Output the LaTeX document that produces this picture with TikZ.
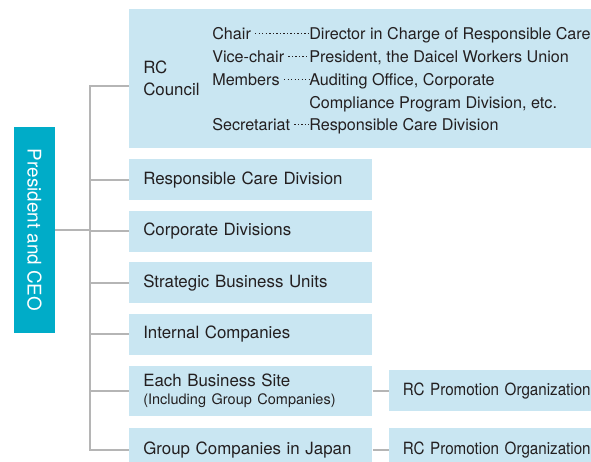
\documentclass[tikz,border=0pt]{standalone}
\usepackage{fontspec}
\setmainfont{TeX Gyre Heros}
\newfontfamily\estrecha[FakeStretch=0.9]{TeX Gyre Heros}
\usetikzlibrary{positioning,calc}
\definecolor{celeste}{RGB}{201,230,242}
\definecolor{turquesa}{RGB}{0,172,200}
\definecolor{gristrazo}{RGB}{181,181,181}
\definecolor{tinta}{RGB}{35,31,32}

\begin{document}
\begin{tikzpicture}[x=0.25mm,y=0.25mm,
caja/.style={fill=celeste,minimum width=60.75mm,minimum height=10.25mm,text width=53.75mm,align=left,inner xsep=3.5mm,inner ysep=0pt,text=tinta,font=\fontsize{12}{14.4}\selectfont},
promo/.style={caja,minimum width=50.75mm,text width=48mm,font=\estrecha\fontsize{12}{14.4}\selectfont},
consejo/.style={fill=celeste,minimum width=115.5mm,minimum height=34.75mm,inner sep=0pt},
ceobox/.style={fill=turquesa,minimum width=10.25mm,minimum height=51.5mm,inner sep=0pt,text=white,font=\fontsize{13.4}{16}\selectfont},
cargobase/.style={anchor=west,inner sep=0pt,text=tinta,font=\fontsize{11.5}{16.2}\selectfont},
cargo/.style={cargobase,text height=8.5pt,text depth=0.5pt},
guia/.style={tinta,line width=0.5pt,dash pattern=on 0.9pt off 1.6pt,shorten <=1mm},
linea/.style={draw=gristrazo,line width=0.5mm}
]
\clip (0,0) rectangle (591,-461);

% RC council and its members
\node[consejo,anchor=north west] (council) at (129,-9) {};
\node[anchor=west,inner sep=0pt,align=left,text=tinta,font=\fontsize{12}{15.6}\selectfont,right=3.5mm of council.west] (rctitulo) {RC\\Council};
\coordinate (colval) at (309,0);
\node[cargo] (chair) at (212,-33.5) {Chair};
\node[cargo] (vice) at (212,-56.5) {Vice-chair};
\node[cargo] (members) at (212,-79.5) {Members};
\node[cargo] (secret) at (212,-124.75) {Secretariat};
\node[cargo] (chairval) at (chair -| colval) {Director in Charge of Responsible Care};
\node[cargo] (viceval) at (vice -| colval) {President, the Daicel Workers Union};
\node[cargobase,align=left,anchor=north west] (membersval) at (members.north -| colval) {Auditing Office, Corporate\\Compliance Program Division, etc.};
\node[cargo] (secretval) at (secret -| colval) {Responsible Care Division};
\draw[guia] (chair.east) -- (chairval.west);
\draw[guia] (vice.east) -- (viceval.west);
\draw[guia] (members.east) -- (members.east -| membersval.west);
\draw[guia] (secret.east) -- (secretval.west);

% other bodies
\node[caja,anchor=north west] (rcdiv) at (129,-159) {Responsible Care Division};
\node[caja,below=2.5mm of rcdiv] (corp) {Corporate Divisions};
\node[caja,below=2.5mm of corp] (sbu) {Strategic Business Units};
\node[caja,below=2.5mm of sbu] (internas) {Internal Companies};
\node[caja,below=2.5mm of internas,minimum height=12.5mm,font=\fontsize{12}{12.8}\selectfont] (sitio) {Each Business Site\\{\fontsize{10.3}{12.8}\selectfont(Including Group Companies)}};
\node[caja,below=3mm of sitio,minimum height=11mm] (grupo) {Group Companies in Japan};
\node[promo,right=4mm of sitio] (promositio) {RC Promotion Organization};
\node[promo,right=4mm of grupo,minimum height=11mm] (promogrupo) {RC Promotion Organization};

\node[ceobox] (ceo) at (34.5,-230) {\rotatebox{-90}{President and CEO}};

% connectors
\coordinate (eje) at (90,-230);
\draw[linea] ([yshift=-1.875mm]council.west) -| (eje |- grupo.west) -- (grupo.west);
\draw[linea] (ceo.east) -- (eje);
\foreach \rama in {rcdiv,corp,sbu,internas,sitio}
  \draw[linea] (eje |- \rama.west) -- (\rama.west);
\draw[linea] (sitio.east) -- (sitio.east -| promositio.west);
\draw[linea] (grupo.east) -- (grupo.east -| promogrupo.west);
\end{tikzpicture}
\end{document}
